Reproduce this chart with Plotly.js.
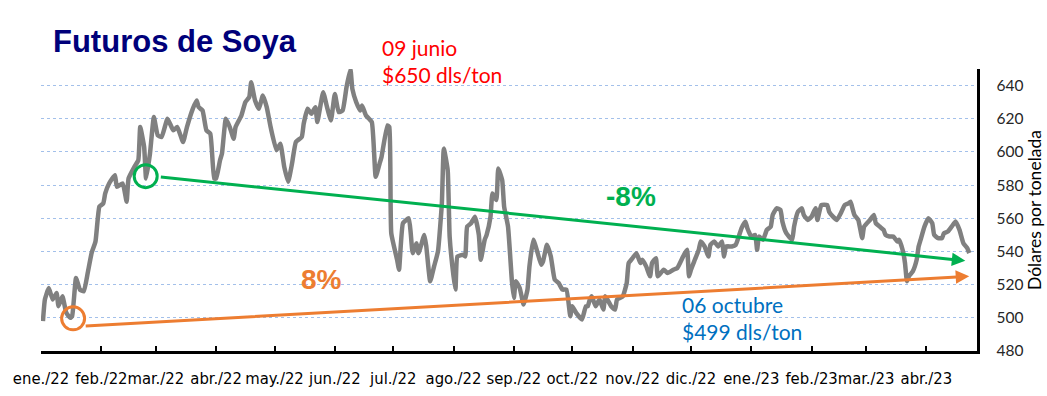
<!DOCTYPE html>
<html>
<head>
<meta charset="utf-8">
<script src="https://cdn.plot.ly/plotly-3.0.1.min.js"></script>
<style>html,body{margin:0;padding:0;background:#fff;} #chart{width:1047px;height:396px;}</style>
</head>
<body>
<div id="chart"></div>
<script>
// Day offsets counted from 1 Jan 2022
const dayOffset = [1,2,4,6,8,9,11,13,15,16,18,20,22,24,26,28,30,32,33,35,38,39,42,44,45,48,50,51,53,54,56,58,60,62,65,68,70,73,75,78,80,81,83,85,87,89,90,92,93,95,97,99,100,103,105,107,108,110,112,114,116,118,121,123,125,127,129,131,134,135,137,139,141,142,145,147,149,151,153,155,157,159,160,162,164,165,167,170,172,174,175,178,179,180,183,184,186,189,190,191,193,194,197,198,200,202,204,206,207,209,210,212,213,214,217,218,219,221,223,225,226,228,229,231,232,234,235,237,238,240,242,243,244,246,248,250,251,253,255,257,258,260,262,264,266,268,270,272,273,275,278,280,281,282,283,285,287,289,290,293,295,296,299,301,302,304,306,308,309,311,313,314,316,317,320,322,325,327,330,332,333,334,336,338,339,341,343,344,346,348,350,351,352,355,357,360,362,363,365,367,368,369,371,373,375,376,378,380,381,383,386,387,389,391,392,394,396,398,399,401,404,405,407,409,411,413,415,416,417,418,420,422,423,426,428,429,431,433,434,436,438,440,441,443,444,445,446,448,450,451,452,454,456,458,459,461,463,464,466,468,470,472,474,476,477];
const pricePerTon = [498,511,518,511,515,507,513,503,500,501,524,517,516,527,539,546,567,569,575,581,586,579,581,570,584,591,595,615,603,584,599,621,610,609,620,613,615,606,615,626,631,627,625,613,611,584,584,595,599,620,615,608,615,622,630,633,642,631,626,634,627,615,601,605,591,582,593,606,609,617,626,623,627,618,636,627,619,635,624,625,639,650,638,630,625,628,622,618,585,593,597,616,615,551,535,529,557,560,551,539,545,539,550,543,522,531,540,569,602,589,549,525,517,537,538,537,555,557,561,550,535,547,550,561,575,571,590,583,567,555,522,512,522,518,508,517,531,547,540,532,534,544,537,523,521,517,517,501,507,503,499,507,507,511,513,507,511,505,513,507,505,511,513,521,533,536,539,533,535,531,525,533,536,525,529,527,529,530,537,541,525,529,535,541,546,543,537,544,546,543,546,537,543,543,544,554,558,554,549,550,541,549,547,553,555,562,566,565,558,551,547,555,564,566,562,559,561,566,559,568,568,564,561,559,563,568,569,570,566,562,559,548,555,559,562,557,555,553,550,549,549,546,547,540,533,522,525,528,535,543,547,555,560,557,550,548,548,551,552,555,558,553,545,542,539];

// Month starts (day offsets) and their labels
const monthStart = [0,31,59,90,120,151,181,212,243,273,304,334,365,396,424,455];
const monthLabels = ['ene./22','feb./22','mar./22','abr./22','may./22','jun./22','jul./22','ago./22','sep./22','oct./22','nov./22','dic./22','ene./23','feb./23','mar./23','abr./23'];
const yTicks = [480,500,520,540,560,580,600,620,640];

// Trend arrows: [day, price] tail -> tip
const downTrend = [[60.8, 585], [475, 534.4]];
const upTrend = [[22.2, 495], [477, 525]];
const downCircle = [53.8, 585.4];
const upCircle = [16.5, 499.7];

const trace = {
  x: dayOffset, y: pricePerTon, type: 'scatter', mode: 'lines',
  line: {color: '#808080', width: 4.5, shape: 'spline', smoothing: 0.4},
  hoverinfo: 'skip', showlegend: false
};

const calib = 'Lato, "Open Sans", sans-serif';

function arrow(tr, color) {
  return {x: tr[1][0], y: tr[1][1], ax: tr[0][0], ay: tr[0][1], xref: 'x', yref: 'y', axref: 'x', ayref: 'y',
    text: '', showarrow: true, arrowhead: 2, arrowsize: 0.9, arrowwidth: 3, arrowcolor: color, standoff: 0, startstandoff: 0};
}
function circle(c, color) {
  return {type: 'circle', xref: 'x', yref: 'y', xsizemode: 'pixel', ysizemode: 'pixel', xanchor: c[0], yanchor: c[1],
    x0: -11.5, x1: 11.5, y0: -11.5, y1: 11.5, line: {color: color, width: 3}, fillcolor: 'rgba(0,0,0,0)'};
}
function px(x) { return (x - 41) / 936; }
function py(y) { return (351 - y) / 282; }

const layout = {
  width: 1047, height: 396,
  margin: {l: 41, r: 70, t: 69, b: 45},
  paper_bgcolor: '#fff', plot_bgcolor: '#fff',
  title: {text: 'Futuros de Soya', x: 53/1047, xanchor: 'left', xref: 'container', y: 1 - 41/396, yanchor: 'middle', yref: 'container',
    font: {family: '"Liberation Sans", Arial, sans-serif', size: 31, color: '#00007a', weight: 700}},
  xaxis: {range: [0, 481], tickvals: monthStart, ticktext: monthLabels, ticks: 'inside', ticklen: 5, tickwidth: 2, tickcolor: '#000',
    tickangle: 0, showline: true, linecolor: '#000', linewidth: 2.5, showgrid: false, zeroline: false, ticklabelstandoff: 11,
    tickfont: {family: '"Liberation Sans Narrow", "Arial Narrow", "DejaVu Sans Condensed", sans-serif', size: 16.5, color: '#000'}},
  yaxis: {range: [480, 650], side: 'right', tickvals: yTicks, ticks: '', showline: true, linecolor: '#000', linewidth: 2.5,
    showgrid: true, gridcolor: '#a3c0ea', griddash: 'dot', gridwidth: 1, zeroline: false, ticklabelstandoff: 14,
    tickfont: {family: calib, size: 15.5, color: '#262626'},
    title: {text: 'Dólares por tonelada', standoff: 6, font: {family: calib, size: 17.5, color: '#000'}}},
  shapes: [circle(downCircle, '#00b050'), circle(upCircle, '#ed7d31')],
  annotations: [
    arrow(downTrend, '#00b050'), arrow(upTrend, '#ed7d31'),
    {xref: 'paper', yref: 'paper', x: px(380), y: py(61), xanchor: 'left', yanchor: 'middle', align: 'left', showarrow: false,
      text: '09 junio<br>$650 dls/ton', font: {family: calib, size: 21, color: '#ff0000'}},
    {xref: 'paper', yref: 'paper', x: px(680), y: py(318), xanchor: 'left', yanchor: 'middle', align: 'left', showarrow: false,
      text: '06 octubre<br>$499 dls/ton', font: {family: calib, size: 21, color: '#0070c0'}},
    {xref: 'paper', yref: 'paper', x: px(631), y: py(196), xanchor: 'center', yanchor: 'middle', showarrow: false,
      text: '-8%', font: {family: '"Liberation Sans", Arial, sans-serif', size: 28, color: '#00b050', weight: 700}},
    {xref: 'paper', yref: 'paper', x: px(321), y: py(279), xanchor: 'center', yanchor: 'middle', showarrow: false,
      text: '8%', font: {family: '"Liberation Sans", Arial, sans-serif', size: 28, color: '#ed7d31', weight: 700}}
  ]
};

Plotly.newPlot('chart', [trace], layout, {displayModeBar: false, staticPlot: true});
</script>
</body>
</html>
